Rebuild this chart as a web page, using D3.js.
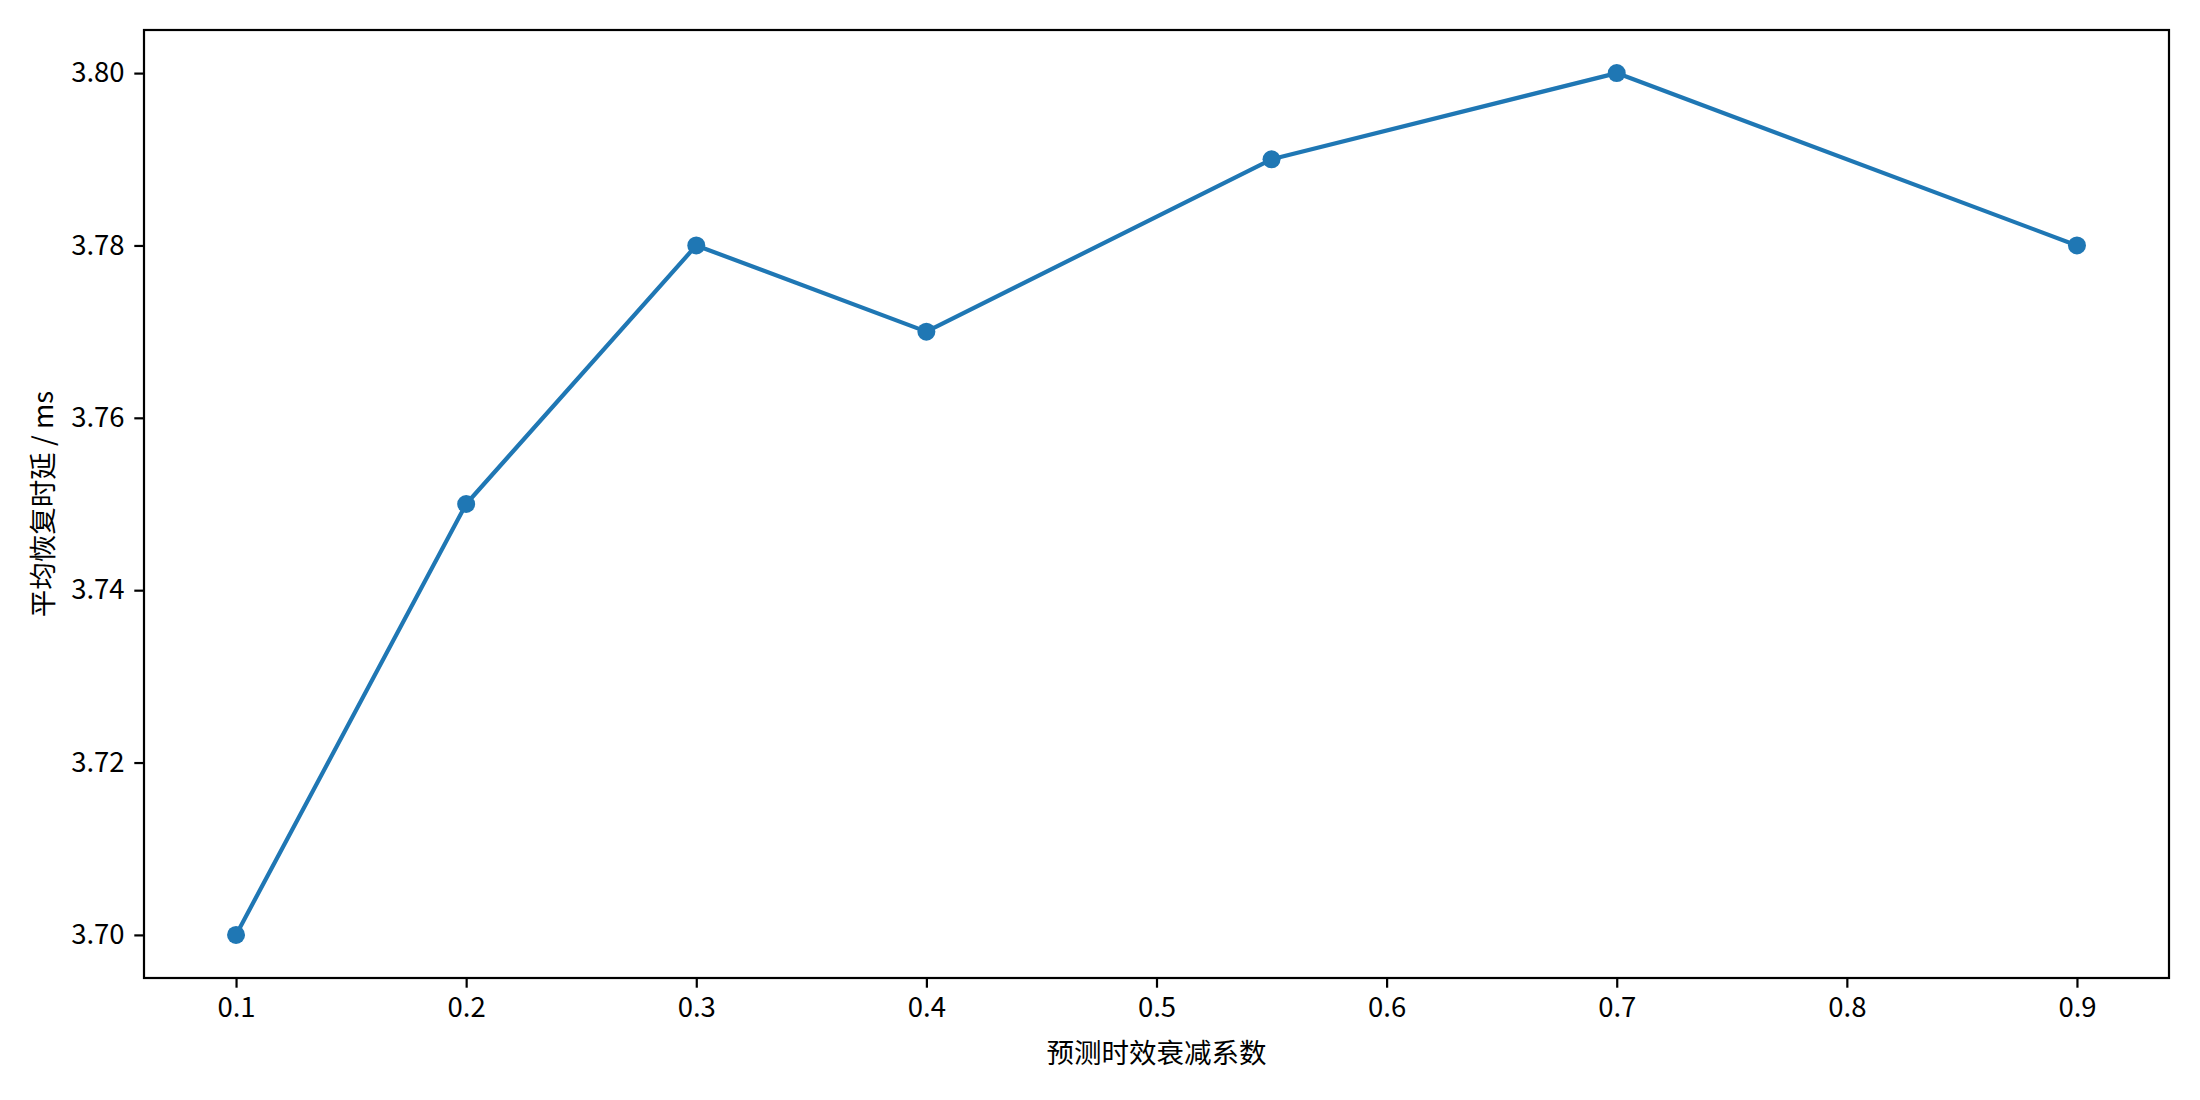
<!DOCTYPE html>
<html>
<head>
<meta charset="utf-8">
<script src="https://cdn.jsdelivr.net/npm/d3@7"></script>
<style>
  html, body { margin: 0; padding: 0; background: #fff; }
  svg { display: block; font-family: "Noto Sans CJK SC", "Noto Sans", sans-serif; }
</style>
</head>
<body>
<svg id="chart"></svg>
<script>
// data
const decayFactors = [0.1, 0.2, 0.3, 0.4, 0.55, 0.7, 0.9];
const latencyMs = [3.70, 3.75, 3.78, 3.77, 3.79, 3.80, 3.78];
const xTicks = [0.1, 0.2, 0.3, 0.4, 0.5, 0.6, 0.7, 0.8, 0.9];
const yTicks = [3.70, 3.72, 3.74, 3.76, 3.78, 3.80];
const xLabel = "预测时效衰减系数";
const yLabel = "平均恢复时延 / ms";

const W = 2200, H = 1100;
const margins = { top: 30, left: 144, right: 31, bottom: 122 }; // plot box 144..2169, 30..978
const fontSize = 27.5;
const blue = "#1f77b4";

const svg = d3.select("#chart").attr("width", W).attr("height", H);

const x = d3.scaleLinear()
  .domain([0.06, 0.94]) // matplotlib style 5% margins
  .range([margins.left, W - margins.right]);

const y = d3.scaleLinear()
  .domain([3.695, 3.805])
  .range([H - margins.bottom, margins.top]);

// x axis
const xAxis = svg.append("g")
  .attr("transform", `translate(0,${H - margins.bottom})`)
  .call(d3.axisBottom(x).tickValues(xTicks).tickFormat(d3.format(".1f")).tickSize(9.7).tickPadding(9.7));
xAxis.select(".domain").remove();
xAxis.selectAll("line").attr("stroke", "#000").attr("stroke-width", 2.2);
xAxis.selectAll("text").attr("font-size", fontSize).attr("fill", "#000").attr("font-family", "Noto Sans CJK SC");

// y axis
const yAxis = svg.append("g")
  .attr("transform", `translate(${margins.left},0)`)
  .call(d3.axisLeft(y).tickValues(yTicks).tickFormat(d3.format(".2f")).tickSize(9.7).tickPadding(9.7));
yAxis.select(".domain").remove();
yAxis.selectAll("line").attr("stroke", "#000").attr("stroke-width", 2.2);
yAxis.selectAll("text").attr("font-size", fontSize).attr("fill", "#000").attr("font-family", "Noto Sans CJK SC");

// the line and markers
const pts = decayFactors.map((d, i) => [d, latencyMs[i]]);
svg.append("path")
  .datum(pts)
  .attr("fill", "none")
  .attr("stroke", blue)
  .attr("stroke-width", 4.2)
  .attr("stroke-linejoin", "round")
  .attr("stroke-linecap", "square")
  .attr("d", d3.line().x(d => x(d[0])).y(d => y(d[1])));

svg.selectAll("circle.pt")
  .data(pts)
  .join("circle")
  .attr("class", "pt")
  .attr("cx", d => x(d[0]))
  .attr("cy", d => y(d[1]))
  .attr("r", 9)
  .attr("fill", blue);

// frame on top
svg.append("rect")
  .attr("x", margins.left)
  .attr("y", margins.top)
  .attr("width", W - margins.left - margins.right)
  .attr("height", H - margins.top - margins.bottom)
  .attr("fill", "none")
  .attr("stroke", "#000")
  .attr("stroke-width", 2.2);

// axis titles
svg.append("text")
  .attr("x", (margins.left + W - margins.right) / 2)
  .attr("y", 1053)
  .attr("dy", "0.35em")
  .attr("text-anchor", "middle")
  .attr("font-size", fontSize)
  .text(xLabel);

svg.append("text")
  .attr("transform", `translate(43,${(margins.top + H - margins.bottom) / 2}) rotate(-90)`)
  .attr("dy", "0.35em")
  .attr("text-anchor", "middle")
  .attr("font-size", fontSize)
  .text(yLabel);
</script>
</body>
</html>
